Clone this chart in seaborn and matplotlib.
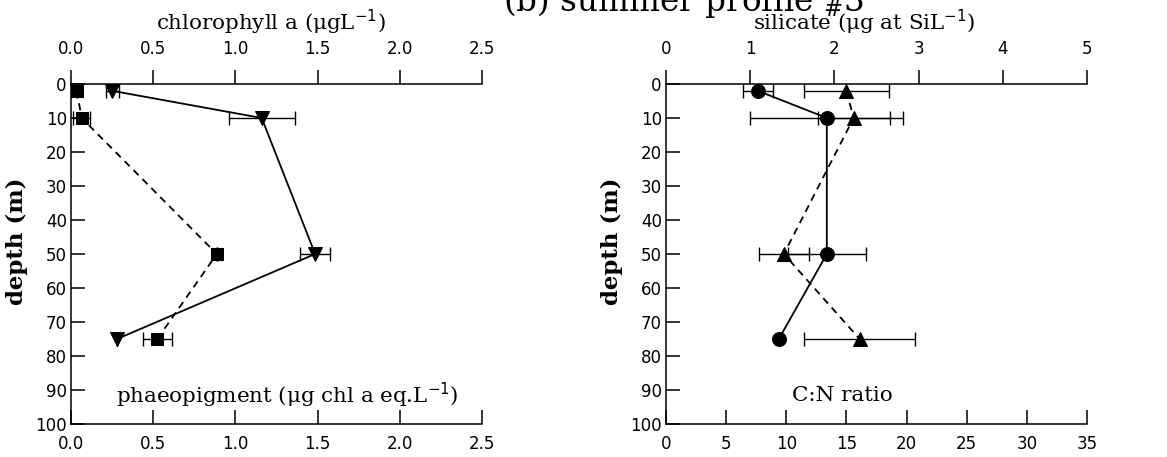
import numpy as np
import pandas as pd
import matplotlib
matplotlib.use("Agg")
import matplotlib.pyplot as plt
import seaborn as sns

# ---------------- data ----------------
depth = [2, 10, 50, 75]

chl = [0.25, 1.16, 1.485, 0.28]          # chlorophyll a (ug/L), top axis, left panel
chl_err = [0.04, 0.20, 0.09, 0.0]
phaeo = [0.035, 0.065, 0.887, 0.525]     # phaeopigment, bottom axis, left panel
phaeo_err = [0.0, 0.05, 0.0, 0.09]

silicate = [1.09, 1.91, 1.91, 1.34]      # silicate, top axis, right panel
silicate_err = [0.18, 0.91, 0.46, 0.0]
cn_ratio = [15.0, 15.6, 9.8, 16.1]       # C:N ratio, bottom axis, right panel
cn_err = [3.5, 3.0, 2.1, 4.6]

left_ticks = [0.0, 0.5, 1.0, 1.5, 2.0, 2.5]
left_ticklabels = ["0.0", "0.5", "1.0", "1.5", "2.0", "2.5"]
si_ticks = [0, 1, 2, 3, 4, 5]
cn_ticks = [0, 5, 10, 15, 20, 25, 30, 35]
depth_ticks = list(range(0, 101, 10))

# ---------------- style ----------------
sns.set_theme(style="ticks")
plt.rcParams["font.family"] = ["DejaVu Sans"]
plt.rcParams["axes.linewidth"] = 1.1
plt.rcParams["xtick.major.width"] = 1.1
plt.rcParams["ytick.major.width"] = 1.1
for k in ["text.color", "axes.labelcolor", "xtick.color", "ytick.color", "axes.edgecolor"]:
    plt.rcParams[k] = "black"

SERIF = "DejaVu Serif"
TICK_FS = 12
LAB_FS = 15.4
DEPTH_FS = 16.5

fig = plt.figure(figsize=(11.67, 4.57), dpi=100)
fig.patch.set_facecolor("white")

W, H = 1167.0, 457.0
axL = fig.add_axes([71 / W, 1 - 424 / H, 411 / W, 340 / H])
axR = fig.add_axes([666 / W, 1 - 424 / H, 421 / W, 340 / H])


def setup(ax, xlim, xticks, xticklabels, top_lim, top_ticks, top_ticklabels,
          bottom_text, bottom_text_x):
    ax.set_facecolor("white")
    ax.set_ylim(100, 0)
    ax.set_xlim(*xlim)
    ax.set_yticks(depth_ticks)
    ax.set_yticklabels([str(d) for d in depth_ticks], fontsize=TICK_FS)
    ax.set_xticks(xticks)
    ax.set_xticklabels(xticklabels, fontsize=TICK_FS)
    ax.tick_params(axis="x", direction="in", length=10, pad=8, bottom=True, top=False)
    ax.tick_params(axis="y", direction="in", length=10, pad=3, left=True, right=False)
    ax.spines["right"].set_visible(False)
    ax.spines["top"].set_visible(False)
    ax.text(bottom_text_x, 0.085, bottom_text, transform=ax.transAxes, ha="center",
            va="center", fontsize=LAB_FS, family=SERIF)

    top = ax.twiny()
    top.set_xlim(*top_lim)
    top.set_xticks(top_ticks)
    top.set_xticklabels(top_ticklabels, fontsize=TICK_FS)
    top.tick_params(axis="x", direction="out", length=10, pad=9, top=True, bottom=False)
    for s in ["left", "right", "bottom"]:
        top.spines[s].set_visible(False)
    return top


topL = setup(axL, (0, 2.5), left_ticks, left_ticklabels, (0, 2.5), left_ticks,
             left_ticklabels, r"phaeopigment ($\mathregular{\mu}$g chl a eq.L$^{-1}$)", 0.525)
topR = setup(axR, (0, 35), cn_ticks, [str(t) for t in cn_ticks], (0, 5), si_ticks,
             [str(t) for t in si_ticks], "C:N ratio", 0.42)

line_kw = dict(sort=False, estimator=None, color="black", linewidth=1.3,
               markeredgecolor="black", markerfacecolor="black", clip_on=False)
err_kw = dict(fmt="none", ecolor="black", elinewidth=1.0, capsize=5, capthick=1.0, clip_on=False)

df_l = pd.DataFrame({"depth": depth, "chl": chl, "phaeo": phaeo})
df_r = pd.DataFrame({"depth": depth, "si": silicate, "cn": cn_ratio})

# left panel
axL.errorbar(phaeo, depth, xerr=phaeo_err, **err_kw)
sns.lineplot(data=df_l, x="phaeo", y="depth", ax=axL, marker="s", markersize=8,
             linestyle=(0, (4, 3)), **line_kw)
topL.errorbar(chl, depth, xerr=chl_err, **err_kw)
sns.lineplot(data=df_l, x="chl", y="depth", ax=topL, marker="v", markersize=10,
             linestyle="-", **line_kw)

# right panel
axR.errorbar(cn_ratio, depth, xerr=cn_err, **err_kw)
sns.lineplot(data=df_r, x="cn", y="depth", ax=axR, marker="^", markersize=10,
             linestyle=(0, (4, 3)), **line_kw)
topR.errorbar(silicate, depth, xerr=silicate_err, **err_kw)
sns.lineplot(data=df_r, x="si", y="depth", ax=topR, marker="o", markersize=10,
             linestyle="-", **line_kw)

# restore axis labels/limits after seaborn
for a, yx in ((axL, -0.105), (axR, -0.102)):
    a.set_ylim(100, 0)
    a.set_xlabel("")
    a.set_ylabel("depth (m)", fontsize=DEPTH_FS, family=SERIF, fontweight="bold")
    a.yaxis.set_label_coords(yx, 0.538)
topL.set_xlabel(r"chlorophyll a ($\mathregular{\mu}$gL$^{-1}$)", fontsize=LAB_FS, family=SERIF)
topR.set_xlabel(r"silicate ($\mathregular{\mu}$g at SiL$^{-1}$)", fontsize=LAB_FS, family=SERIF)
topL.xaxis.set_label_coords(0.487, 1.0 + (84 - 37) / 340.0)
topR.xaxis.set_label_coords(0.47, 1.0 + (84 - 37) / 340.0)
for t in (topL, topR):
    t.set_ylabel("")
    t.xaxis.label.set_va("bottom")

fig.text(684 / W, 1 - 11 / H, r"(b) summer profile $_{\#}$3", ha="center", va="baseline",
         fontsize=23.5, family=SERIF)

fig.savefig("out.png", dpi=100, facecolor="white")
